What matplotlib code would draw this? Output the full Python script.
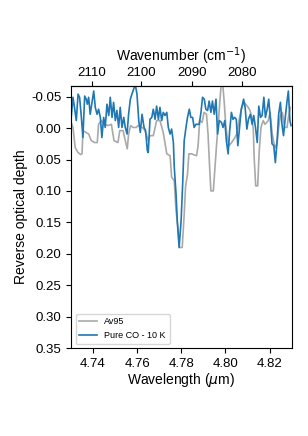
import numpy as np
import matplotlib
matplotlib.use('Agg')
import matplotlib.pyplot as plt

plt.rcParams['font.family'] = ['Liberation Sans', 'DejaVu Sans']

# Av95 (grey)
av95_wl = [4.7301, 4.7309, 4.7319, 4.7332, 4.7344, 4.7350, 4.7354, 4.7369, 4.7380,
           4.7392, 4.7407, 4.7419, 4.7425, 4.7437, 4.7453, 4.7468, 4.7483, 4.7495,
           4.7513, 4.7521, 4.7536, 4.7546, 4.7555, 4.7561, 4.7570, 4.7581, 4.7596,
           4.7604, 4.7622, 4.7631, 4.7641, 4.7650, 4.7658, 4.7673, 4.7688, 4.7703,
           4.7718, 4.7734, 4.7749, 4.7756, 4.7768, 4.7776, 4.7786, 4.7791, 4.7804,
           4.7813, 4.7819, 4.7828, 4.7834, 4.7846, 4.7869, 4.7876, 4.7883, 4.7894,
           4.7903, 4.7914, 4.7921, 4.7929, 4.7934, 4.7945, 4.7953, 4.7960, 4.7968,
           4.7975, 4.7984, 4.7995, 4.8001, 4.8008, 4.8016, 4.8028, 4.8043, 4.8051,
           4.8058, 4.8066, 4.8073, 4.8085, 4.8096, 4.8103, 4.8111, 4.8119, 4.8126,
           4.8130, 4.8137, 4.8146, 4.8153, 4.8161, 4.8171, 4.8179, 4.8187, 4.8194,
           4.8202, 4.8212, 4.8219, 4.8227, 4.8234, 4.8240, 4.8249, 4.8258, 4.8268,
           4.8279, 4.8285, 4.8294]
av95_tau = [-0.009, -0.001, 0.031, 0.039, 0.042, 0.041, 0.004, 0.007, 0.0095,
            0.020, 0.023, 0.023, -0.006, -0.012, -0.006, -0.004, -0.006, 0.020,
            0.023, 0.004, 0.004, 0.020, 0.033, 0.0095, -0.004, -0.001, -0.001,
            -0.004, -0.001, 0.0016, 0.0095, 0.020, 0.012, 0.012, -0.012, -0.012,
            0.007, 0.041, 0.044, 0.078, 0.084, 0.131, 0.163, 0.190, 0.190,
            0.137, 0.094, 0.073, 0.041, 0.041, 0.044, 0.028, -0.012, -0.009,
            -0.025, -0.022, 0.0095, 0.068, 0.100, 0.100, 0.060, 0.025, -0.010,
            -0.045, -0.085, -0.038, -0.006, 0.015, 0.028, 0.023, 0.015, 0.0095,
            -0.006, -0.020, -0.033, -0.041, -0.036, -0.033, -0.028, -0.017, 0.0016,
            0.047, 0.092, 0.092, 0.036, -0.001, -0.012, -0.006, -0.009, -0.012,
            -0.025, 0.0095, 0.023, 0.031, 0.025, 0.0016, -0.020, -0.025, -0.001,
            -0.001, -0.017, -0.033]

# Pure CO - 10 K (blue)
co_wl = [4.7301, 4.7309, 4.7317, 4.7324, 4.7332, 4.7339, 4.7347, 4.7354, 4.7362,
         4.7369, 4.7374, 4.7380, 4.7387, 4.7395, 4.7403, 4.7410, 4.7418, 4.7425,
         4.7433, 4.7440, 4.7448, 4.7455, 4.7463, 4.7471, 4.7478, 4.7486, 4.7493,
         4.7501, 4.7508, 4.7516, 4.7523, 4.7531, 4.7539, 4.7546, 4.7554, 4.7561,
         4.7569, 4.7576, 4.7584, 4.7591, 4.7599, 4.7607, 4.7614, 4.7622, 4.7631,
         4.7638, 4.7646, 4.7650, 4.7658, 4.7666, 4.7673, 4.7681, 4.7688, 4.7696,
         4.7703, 4.7711, 4.7718, 4.7726, 4.7734, 4.7741, 4.7749, 4.7756, 4.7764,
         4.7768, 4.7776, 4.7782, 4.7790, 4.7799, 4.7806, 4.7813, 4.7821, 4.7828,
         4.7836, 4.7843, 4.7851, 4.7858, 4.7866, 4.7874, 4.7881, 4.7889, 4.7896,
         4.7904, 4.7911, 4.7919, 4.7926, 4.7934, 4.7941, 4.7949, 4.7957, 4.7964,
         4.7972, 4.7982, 4.7989, 4.7997, 4.8004, 4.8012, 4.8019, 4.8027, 4.8034,
         4.8041, 4.8049, 4.8056, 4.8064, 4.8071, 4.8082, 4.8089, 4.8097, 4.8104,
         4.8113, 4.8121, 4.8128, 4.8136, 4.8144, 4.8151, 4.8159, 4.8166, 4.8174,
         4.8181, 4.8189, 4.8196, 4.8204, 4.8211, 4.8219, 4.8226, 4.8234, 4.8241,
         4.8249, 4.8256, 4.8263, 4.8271, 4.8279, 4.8285, 4.8292, 4.8297]
co_tau = [-0.017, -0.049, -0.030, -0.012, -0.054, -0.049, -0.017, 0.015, -0.051,
          -0.046, -0.038, -0.049, -0.022, -0.041, -0.059, -0.033, -0.022, -0.030,
          -0.017, 0.015, -0.017, -0.001, -0.038, -0.020, -0.049, -0.017, -0.041,
          -0.012, -0.028, -0.001, -0.033, -0.001, -0.017, -0.001, 0.0095, -0.022,
          -0.046, -0.054, -0.062, -0.070, -0.054, -0.012, 0.007, -0.022, -0.001,
          0.004, 0.036, 0.039, -0.014, -0.017, -0.030, -0.014, -0.035, -0.014,
          -0.033, -0.012, -0.025, -0.020, -0.025, -0.001, 0.0095, 0.0016, 0.023,
          0.062, 0.105, 0.150, 0.190, 0.147, 0.089, 0.020, -0.001, -0.017,
          -0.030, -0.017, -0.017, -0.001, -0.006, -0.006, -0.006, -0.025, -0.049,
          -0.046, -0.030, -0.028, -0.043, -0.025, -0.043, -0.022, -0.046, 0.0095,
          -0.012, -0.009, -0.001, -0.012, 0.020, 0.041, 0.004, -0.025, -0.014,
          -0.017, -0.014, 0.028, -0.001, -0.028, -0.046, -0.033, 0.0016, -0.014,
          -0.022, -0.006, -0.020, -0.001, 0.023, -0.035, -0.017, -0.020, -0.049,
          -0.017, -0.030, -0.046, -0.012, 0.025, 0.028, 0.055, 0.020, -0.022,
          -0.041, -0.006, 0.012, -0.017, -0.043, -0.059, -0.012, -0.004]

wn_ticks = [2110, 2100, 2090, 2080]

fig = plt.figure(figsize=(3.08, 4.36), dpi=100)
ax = fig.add_axes([0.2305, 0.2018, 0.7165, 0.601])

ax.plot(av95_wl, av95_tau, color='darkgrey', lw=1.2, label='Av95')
ax.plot(co_wl, co_tau, color='tab:blue', lw=1.2, label='Pure CO - 10 K')

ax.set_xlim(4.73, 4.83)
ax.set_ylim(0.35, -0.067)
ax.set_yticks(np.arange(-0.05, 0.351, 0.05))
ax.yaxis.set_major_formatter(plt.FormatStrFormatter('%.2f'))
ax.set_xticks([4.74, 4.76, 4.78, 4.80, 4.82])
ax.tick_params(labelsize=9.5)
ax.set_xlabel(r'Wavelength ($\mu$m)', fontsize=10, labelpad=1)
ax.set_ylabel('Reverse optical depth', fontsize=10, labelpad=2)

top = ax.secondary_xaxis('top', functions=(lambda x: 1e4 / x, lambda x: 1e4 / x))
top.set_xticks(wn_ticks)
top.tick_params(labelsize=9.5, pad=1.5)
top.set_xlabel('Wavenumber (cm$^{-1}$)', fontsize=10, labelpad=4)

ax.legend(loc='lower left', fontsize=6.5)

fig.savefig('out.png', dpi=100)
